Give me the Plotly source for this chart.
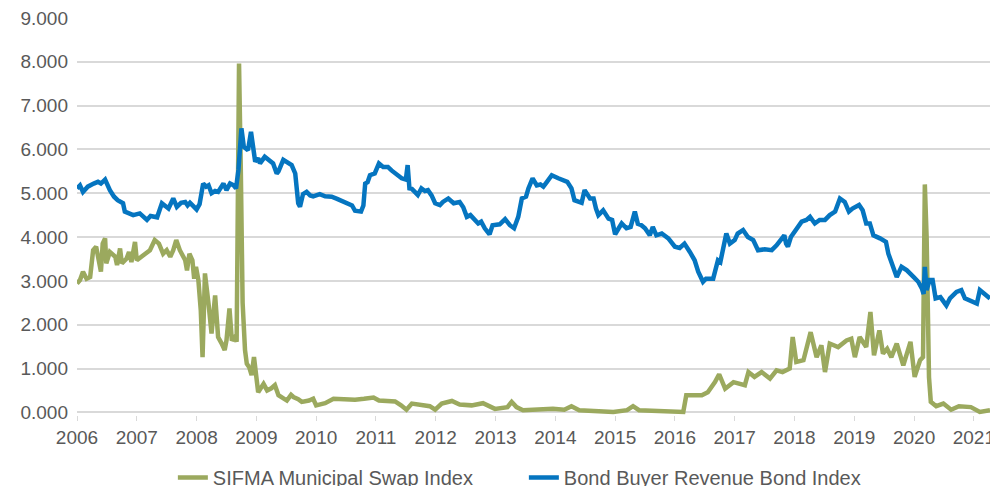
import plotly.graph_objects as go

# Bond Buyer Revenue Bond Index (decimal year, value)
bb_x = [2006.00, 2006.05, 2006.10, 2006.18, 2006.28, 2006.35, 2006.40, 2006.47, 2006.55, 2006.62,
        2006.68, 2006.77, 2006.80, 2006.88, 2006.94, 2007.05, 2007.12, 2007.17, 2007.23, 2007.28,
        2007.34, 2007.42, 2007.48, 2007.53, 2007.61, 2007.67, 2007.74, 2007.81, 2007.85, 2007.89,
        2007.95, 2008.00, 2008.05, 2008.11, 2008.16, 2008.20, 2008.25, 2008.31, 2008.36, 2008.45,
        2008.50, 2008.56, 2008.62, 2008.66, 2008.70, 2008.75, 2008.79, 2008.86, 2008.91, 2008.95,
        2008.98, 2009.03, 2009.06, 2009.14, 2009.22, 2009.28, 2009.34, 2009.37, 2009.45, 2009.52,
        2009.59, 2009.65, 2009.70, 2009.73, 2009.78, 2009.84, 2009.90, 2009.95, 2010.06, 2010.15,
        2010.26, 2010.35, 2010.43, 2010.54, 2010.60, 2010.65, 2010.75, 2010.79, 2010.82, 2010.86,
        2010.90, 2010.98, 2011.05, 2011.12, 2011.20, 2011.26, 2011.32, 2011.38, 2011.43, 2011.50,
        2011.53, 2011.56, 2011.60, 2011.65, 2011.70, 2011.76, 2011.82, 2011.87, 2011.93, 2011.99,
        2012.07, 2012.12, 2012.21, 2012.30, 2012.40, 2012.46, 2012.52, 2012.58, 2012.64, 2012.71,
        2012.76, 2012.82, 2012.90, 2012.95, 2013.07, 2013.16, 2013.24, 2013.31, 2013.38, 2013.44,
        2013.51, 2013.55, 2013.62, 2013.69, 2013.75, 2013.80, 2013.86, 2013.94, 2014.05, 2014.13,
        2014.20, 2014.27, 2014.32, 2014.44, 2014.49, 2014.58, 2014.64, 2014.68, 2014.72, 2014.80,
        2014.89, 2014.95, 2015.00, 2015.06, 2015.11, 2015.19, 2015.26, 2015.33, 2015.38, 2015.44,
        2015.50, 2015.58, 2015.63, 2015.69, 2015.78, 2015.89, 2015.95, 2016.00, 2016.08, 2016.16,
        2016.25, 2016.33, 2016.39, 2016.47, 2016.52, 2016.64, 2016.72, 2016.76, 2016.86, 2016.92,
        2017.00, 2017.05, 2017.14, 2017.22, 2017.31, 2017.39, 2017.50, 2017.62, 2017.70, 2017.78,
        2017.83, 2017.86, 2017.89, 2017.94, 2018.03, 2018.12, 2018.20, 2018.26, 2018.34, 2018.42,
        2018.51, 2018.59, 2018.68, 2018.76, 2018.84, 2018.91, 2018.97, 2019.08, 2019.14, 2019.20,
        2019.26, 2019.32, 2019.43, 2019.53, 2019.57, 2019.65, 2019.71, 2019.79, 2019.88, 2019.99,
        2020.07, 2020.13, 2020.16, 2020.18, 2020.21, 2020.26, 2020.31, 2020.36, 2020.44, 2020.54,
        2020.60, 2020.71, 2020.79, 2020.85, 2020.93, 2021.05, 2021.10, 2021.18, 2021.27]
bb_y = [5.11, 5.18, 5.03, 5.15, 5.22, 5.26, 5.22, 5.31, 5.07, 4.92,
        4.84, 4.77, 4.58, 4.54, 4.50, 4.54, 4.46, 4.39, 4.48, 4.46,
        4.45, 4.77, 4.70, 4.65, 4.88, 4.69, 4.78, 4.80, 4.72, 4.78,
        4.70, 4.63, 4.75, 5.22, 5.15, 5.18, 5.00, 5.05, 5.03, 5.22,
        5.07, 5.22, 5.18, 5.11, 5.53, 6.48, 6.06, 5.98, 6.40, 6.00,
        5.72, 5.80, 5.68, 5.83, 5.75, 5.68, 5.45, 5.50, 5.76, 5.70,
        5.64, 5.45, 4.77, 4.69, 4.98, 5.03, 4.95, 4.93, 4.98, 4.93,
        4.92, 4.87, 4.83, 4.77, 4.72, 4.60, 4.58, 4.72, 5.22, 5.25,
        5.41, 5.45, 5.68, 5.60, 5.60, 5.52, 5.45, 5.38, 5.34, 5.31,
        5.64, 5.11, 5.10, 5.03, 4.96, 5.11, 5.05, 5.07, 4.95, 4.77,
        4.73, 4.80, 4.88, 4.77, 4.80, 4.68, 4.46, 4.50, 4.40, 4.31,
        4.35, 4.20, 4.06, 4.27, 4.29, 4.41, 4.27, 4.20, 4.46, 4.88,
        4.92, 5.11, 5.34, 5.18, 5.20, 5.15, 5.26, 5.41, 5.34, 5.30,
        5.26, 5.11, 4.84, 4.78, 5.07, 4.88, 4.88, 4.65, 4.50, 4.61,
        4.42, 4.39, 4.06, 4.20, 4.31, 4.20, 4.23, 4.58, 4.30, 4.27,
        4.20, 4.04, 4.23, 4.04, 4.08, 3.97, 3.85, 3.78, 3.75, 3.85,
        3.66, 3.47, 3.21, 2.98, 3.05, 3.05, 3.47, 3.43, 4.08, 3.85,
        3.93, 4.08, 4.16, 4.00, 3.93, 3.70, 3.72, 3.70, 3.81, 3.93,
        4.04, 3.85, 3.78, 4.00, 4.16, 4.35, 4.39, 4.46, 4.31, 4.39,
        4.39, 4.50, 4.58, 4.88, 4.80, 4.58, 4.65, 4.73, 4.61, 4.31,
        4.31, 4.04, 3.97, 3.89, 3.62, 3.32, 3.09, 3.32, 3.24, 3.09,
        2.98, 2.83, 2.70, 3.32, 2.79, 3.02, 3.02, 2.60, 2.63, 2.44,
        2.60, 2.75, 2.79, 2.60, 2.56, 2.48, 2.79, 2.71, 2.60]

# SIFMA Municipal Swap Index (decimal year, value)
sifma_x = [2006.00, 2006.05, 2006.10, 2006.16, 2006.22, 2006.27, 2006.32, 2006.40, 2006.43, 2006.47,
           2006.49, 2006.55, 2006.64, 2006.67, 2006.72, 2006.75, 2006.83, 2006.87, 2006.91, 2006.97,
           2007.00, 2007.08, 2007.14, 2007.22, 2007.30, 2007.37, 2007.44, 2007.50, 2007.56, 2007.61,
           2007.66, 2007.72, 2007.81, 2007.84, 2007.88, 2007.93, 2007.96, 2007.99, 2008.03, 2008.07,
           2008.10, 2008.14, 2008.20, 2008.25, 2008.31, 2008.36, 2008.42, 2008.47, 2008.50, 2008.55,
           2008.59, 2008.64, 2008.67, 2008.69, 2008.71, 2008.74, 2008.77, 2008.81, 2008.84, 2008.88,
           2008.92, 2008.96, 2009.00, 2009.03, 2009.12, 2009.18, 2009.25, 2009.31, 2009.37, 2009.42,
           2009.51, 2009.58, 2009.62, 2009.70, 2009.76, 2009.88, 2009.95, 2010.00, 2010.15, 2010.29,
           2010.45, 2010.65, 2010.80, 2010.96, 2011.05, 2011.32, 2011.42, 2011.51, 2011.60, 2011.76,
           2011.90, 2011.99, 2012.10, 2012.27, 2012.40, 2012.60, 2012.79, 2012.99, 2013.20, 2013.27,
           2013.35, 2013.46, 2013.70, 2013.96, 2014.15, 2014.27, 2014.40, 2014.70, 2014.97, 2015.20,
           2015.30, 2015.40, 2015.75, 2016.14, 2016.19, 2016.45, 2016.55, 2016.67, 2016.74, 2016.84,
           2016.98, 2017.17, 2017.23, 2017.33, 2017.45, 2017.59, 2017.70, 2017.80, 2017.92, 2017.97,
           2018.03, 2018.15, 2018.27, 2018.37, 2018.45, 2018.51, 2018.59, 2018.73, 2018.87, 2018.95,
           2019.01, 2019.09, 2019.20, 2019.27, 2019.33, 2019.42, 2019.48, 2019.55, 2019.62, 2019.71,
           2019.82, 2019.94, 2020.01, 2020.10, 2020.15, 2020.18, 2020.21, 2020.25, 2020.28, 2020.37,
           2020.49, 2020.62, 2020.75, 2020.95, 2021.10, 2021.27]
sifma_y = [2.94, 3.02, 3.21, 3.05, 3.09, 3.70, 3.78, 3.21, 3.85, 3.97,
           3.40, 3.66, 3.55, 3.36, 3.74, 3.40, 3.51, 3.66, 3.43, 3.89,
           3.47, 3.55, 3.62, 3.70, 3.93, 3.85, 3.62, 3.70, 3.55, 3.70,
           3.93, 3.70, 3.47, 3.24, 3.62, 3.47, 3.05, 3.32, 3.02, 2.33,
           1.26, 3.17, 2.48, 1.80, 2.67, 1.72, 1.57, 1.42, 1.64, 2.37,
           1.64, 1.72, 1.61, 4.40, 7.96, 5.50, 2.50, 1.42, 1.11, 1.03,
           0.85, 1.26, 0.65, 0.46, 0.65, 0.50, 0.55, 0.62, 0.39, 0.35,
           0.27, 0.40, 0.35, 0.30, 0.24, 0.27, 0.31, 0.16, 0.21, 0.31,
           0.30, 0.29, 0.31, 0.34, 0.27, 0.25, 0.16, 0.06, 0.20, 0.16,
           0.14, 0.06, 0.20, 0.26, 0.18, 0.16, 0.21, 0.08, 0.12, 0.24,
           0.12, 0.05, 0.06, 0.08, 0.06, 0.14, 0.05, 0.04, 0.01, 0.05,
           0.14, 0.05, 0.02, 0.01, 0.39, 0.39, 0.46, 0.69, 0.87, 0.54,
           0.69, 0.62, 0.92, 0.81, 0.92, 0.77, 0.96, 0.92, 1.00, 1.72,
           1.15, 1.19, 1.83, 1.26, 1.53, 0.92, 1.57, 1.49, 1.64, 1.68,
           1.26, 1.72, 1.49, 2.29, 1.30, 1.87, 1.34, 1.45, 1.26, 1.57,
           1.07, 1.61, 0.81, 1.19, 1.26, 5.20, 4.00, 0.80, 0.24, 0.14,
           0.20, 0.06, 0.14, 0.12, 0.01, 0.05]

years = list(range(2006, 2022))
year_labels = [str(y) for y in years]
y_ticks = list(range(0, 10))

GREEN = "#9BA95E"
BLUE = "#0575C0"
TXT = "#595959"
GRID = "#D9D9D9"
FONT = "Liberation Sans"

fig = go.Figure()
fig.add_trace(go.Scatter(x=sifma_x, y=sifma_y, mode="lines", name="SIFMA Municipal Swap Index",
                         line=dict(color=GREEN, width=4.5)))
fig.add_trace(go.Scatter(x=bb_x, y=bb_y, mode="lines", name="Bond Buyer Revenue Bond Index",
                         line=dict(color=BLUE, width=4.5)))

fig.update_layout(
    width=990, height=486,
    margin=dict(l=77, r=0, t=17, b=71, autoexpand=False),
    plot_bgcolor="white", paper_bgcolor="white",
    font=dict(family=FONT, size=19, color=TXT),
    showlegend=True,
    legend=dict(orientation="h", x=0.105, xanchor="left", y=-0.157, yanchor="middle",
                font=dict(family=FONT, size=20, color=TXT), itemwidth=30,
                entrywidth=306, entrywidthmode="pixels",
                traceorder="normal", bgcolor="rgba(0,0,0,0)"),
    xaxis=dict(range=[2006, 2021.27], tickvals=years, ticktext=year_labels,
               showgrid=False, zeroline=False, showline=False,
               ticks="outside", ticklen=5, tickcolor=GRID, tickwidth=1,
               ticklabeloverflow="allow",
               tickfont=dict(family=FONT, size=19, color=TXT)),
    yaxis=dict(range=[-0.06, 9.02], tickvals=y_ticks, tickformat=".3f",
               showgrid=True, gridcolor=GRID, gridwidth=1.5,
               zeroline=True, zerolinecolor=GRID, zerolinewidth=1.5,
               showline=False, ticks="", ticklabelstandoff=8,
               tickfont=dict(family=FONT, size=19, color=TXT)),
)

# remove the browser's default page margin so the 990x486 figure fills the window exactly
fig.write_html("out.html",
               config={"displayModeBar": False},
               post_script="document.body.style.margin='0';document.body.style.overflow='hidden';")
